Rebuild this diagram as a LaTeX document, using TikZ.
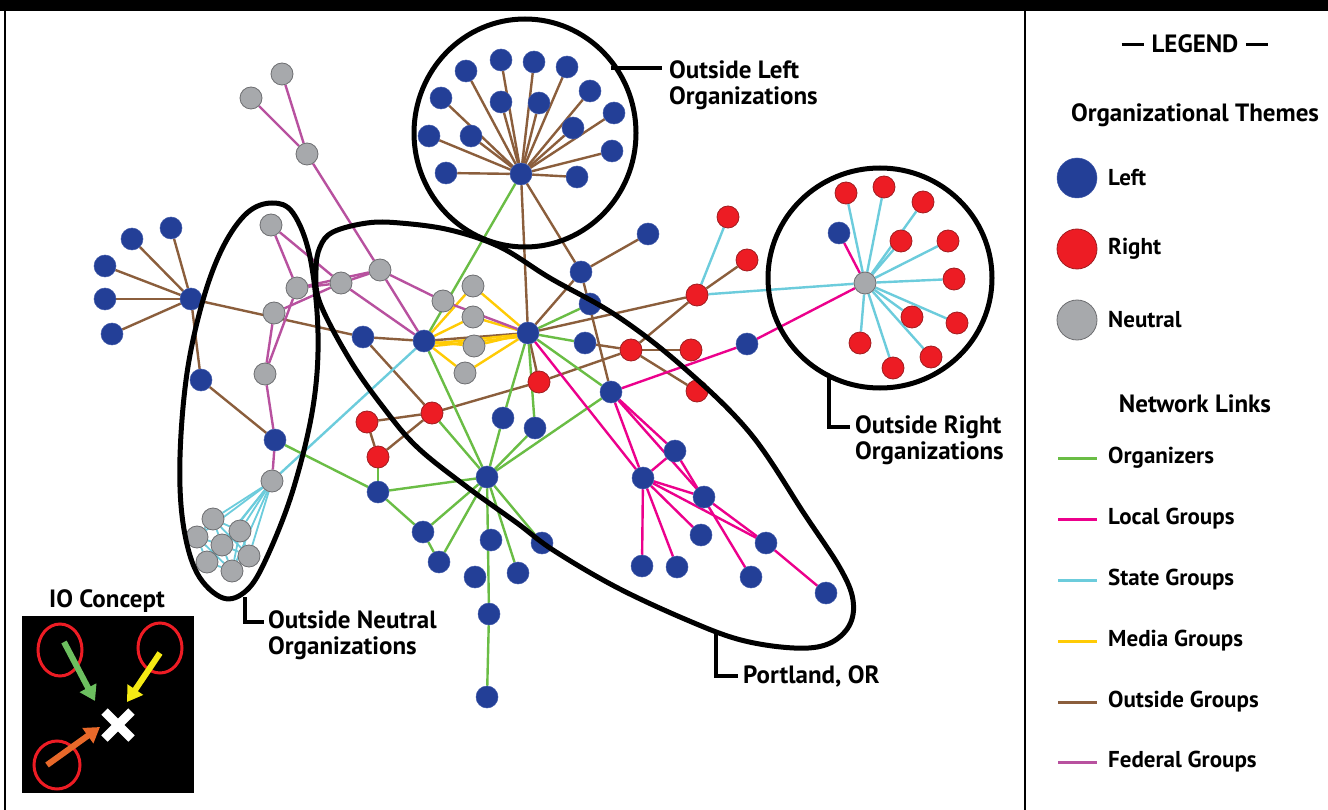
\documentclass[tikz,border=0pt]{standalone}
\usepackage{fontspec}
\setmainfont{PT Sans}
\usetikzlibrary{arrows.meta}
\definecolor{cblue}{HTML}{233F97}
\definecolor{cbluel}{HTML}{3F58A8}
\definecolor{cred}{HTML}{ED1C24}
\definecolor{credd}{HTML}{A01C20}
\definecolor{cgrey}{HTML}{A7A9AC}
\definecolor{cgreyd}{HTML}{6D6E71}
\definecolor{lorg}{HTML}{6ABD45}
\definecolor{lloc}{HTML}{EC008C}
\definecolor{lsta}{HTML}{6CCCDC}
\definecolor{lmed}{HTML}{FFCB05}
\definecolor{lout}{HTML}{8B5E3C}
\definecolor{lfed}{HTML}{B8519F}
\definecolor{agreen}{HTML}{6CBF5F}
\definecolor{ayellow}{HTML}{F5EA14}
\definecolor{aorange}{HTML}{E8692A}
\pgfdeclarelayer{back}
\pgfdeclarelayer{edges}
\pgfsetlayers{back,edges,main}
\newcommand\legdash{\rule[0.27em]{0.9em}{2.6pt}}
\begin{document}
\begin{tikzpicture}[x=1pt,y=-1pt,
  bn/.style={circle,fill=cblue,draw=cbluel,line width=0.5pt,minimum size=22pt,inner sep=0pt},
  rn/.style={circle,fill=cred,draw=credd,line width=0.8pt,minimum size=22pt,inner sep=0pt},
  gn/.style={circle,fill=cgrey,draw=cgreyd,line width=0.8pt,minimum size=22pt,inner sep=0pt},
  orgl/.style={draw=lorg,line width=2.4pt},
  locl/.style={draw=lloc,line width=2.4pt},
  stal/.style={draw=lsta,line width=2.4pt},
  medl/.style={draw=lmed,line width=2.4pt},
  outl/.style={draw=lout,line width=2.4pt},
  fedl/.style={draw=lfed,line width=2.4pt},
  hull/.style={draw=black,line width=5pt},
  callout/.style={draw=black,line width=4pt},
  lbl/.style={font=\bfseries\fontsize{25}{26}\selectfont,inner sep=0pt,align=left,anchor=west},
  leglbl/.style={lbl,font=\bfseries\fontsize{23}{26}\selectfont},
  legline/.style={line width=3pt}]
\useasboundingbox (0,0) rectangle (1328,810);
\begin{pgfonlayer}{back}
\fill[white] (0,0) rectangle (1328,810);
\end{pgfonlayer}
% frame
\fill[black] (0,0) rectangle (1328,11);
\draw[line width=2.5pt] (5,11) -- (5,810);
\draw[line width=2.5pt] (1025,11) -- (1025,810);

% ---------- nodes: blue ----------
\foreach \n/\x/\y in {olh/521/174, ol1/466/71, ol2/501/60, ol3/534/62, ol4/567/67, ol5/590/91, ol6/614/113, ol7/612/151, ol8/577/177, ol9/573/128, ol10/539/103, ol11/501/102, ol12/441/98, ol13/471/136, ol14/429/136, ol15/446/173,
  b191/191/299, b171/171/228, b132/132/239, b105a/105/266, b105b/105/299, b112/112/334, b201/201/380, b275/275/440,
  b363/363/337, b424/424/341, b528/528/333, b581/581/272, b590/590/304, b648/648/234, b585/585/343, b611/611/392, b747/747/344, b839/839/233,
  b503/503/418, b535/535/428, b487/487/477, b378/378/492, b423/423/532, b439/439/562, b491/491/540, b475/475/577, b518/518/573, b542/542/543, b489/489/614, b488/487/697,
  b643/643/478, b675/675/451, b705/704/497, b702/701/535, b765/766/543, b825/826/593, b642/642/566, b677/677/567, b750/751/577}
  \node[bn] (\n) at (\x,\y) {};
% red
\foreach \n/\x/\y in {r367/367/422, r378/378/457, r432/432/413, r539/539/382, r631/631/350, r691/691/350, r697/697/295, r697b/697/391, r728/728/217, r747/747/260,
  o1/846/193, o2/884/187, o3/923/202, o4/901/241, o5/948/241, o6/954/279, o7/912/317, o8/957/323, o9/860/343, o10/931/357, o11/893/368}
  \node[rn] (\n) at (\x,\y) {};
% grey
\foreach \n/\x/\y in {g282/282/74, g251/251/98, g307/307/154, g271/271/225, g297/297/288, g274/274/313, g265/265/374, g272/272/481, g341/341/283, g380/380/270, g443/443/301, g473a/473/286, g473b/473/317, g474c/474/346, g465/465/373, g865/865/283,
  c1/213/519, c2/197/537, c3/240/531, c4/222/545, c5/249/556, c6/207/562, c7/232/571}
  \node[gn] (\n) at (\x,\y) {};

% ---------- edges ----------
\begin{pgfonlayer}{edges}
\foreach \i in {1,...,15} \draw[outl] (olh) -- (ol\i);
\foreach \a/\b in {olh/b528, olh/b581, b581/b648, b581/b611, b528/b581, b528/r697, b528/r539, b424/b528, b363/b424, b191/b363, b191/b171, b191/b132, b191/b105a, b191/b105b, b191/b112, b191/b201, b201/b275, b363/r432, r367/r432, r367/r378, r378/r432, r432/r539, r539/r631, b585/r631, r631/r691, r631/r697, r631/r697b, r697/r747}
  \draw[outl] (\a) -- (\b);
\foreach \a/\b in {olh/b424, b424/b487, b528/b503, b503/b487, b528/b535, b528/b585, b528/b590, b528/b611, b487/b611, b535/b487, r432/b487, b378/b487, b275/b378, r378/b378, b378/b423, b423/b439, b487/b423, b487/b439, b487/b489, b489/b488, b487/b518, b487/b542}
  \draw[orgl] (\a) -- (\b);
\foreach \a/\b in {b528/b643, b611/b643, b611/b675, b611/b705, b643/b675, b643/b705, b643/b765, b643/b702, b643/b677, b643/b642, b675/b750, b705/b765, b765/b825, b611/b747, b747/g865, g865/b839}
  \draw[locl] (\a) -- (\b);
\foreach \i in {1,...,11} \draw[stal] (g865) -- (o\i);
\foreach \a/\b in {r697/g865, r697/r728, b424/g272}
  \draw[stal] (\a) -- (\b);
\foreach \a/\b in {g272/c1, g272/c2, g272/c3, g272/c4, g272/c5, g272/c6, g272/c7, c1/c3, c1/c4, c1/c2, c2/c4, c3/c4, c3/c5, c4/c5, c4/c6, c4/c7, c5/c7, c6/c7, c2/c6, c1/c5, c3/c7, c2/c7, c6/c3}
  \draw[stal,line width=1.8pt] (\a) -- (\b);
\foreach \a/\b in {b424/g473a, b424/g473b, b424/g474c, b424/g465, b528/g473a, b528/g473b, b528/g474c, b528/g465}
  \draw[medl] (\a) -- (\b);
\draw[medl] (b424.-12) -- (b528.-170);
\draw[medl] (b424.-26) -- (b528.-158);
\foreach \a/\b in {g282/g307, g251/g307, g307/g380, g271/g297, g271/g341, g297/g341, g297/g380, g341/g380, g274/g341, g297/g265, g274/g265, g341/b424, g380/b424, g380/g443, g443/b528, g265/b275, b275/g272}
  \draw[fedl] (\a) -- (\b);
\end{pgfonlayer}

% ---------- hulls ----------
\draw[hull] (525,133) ellipse [x radius=111, y radius=114];
\draw[hull] (880,278) ellipse [x radius=112, y radius=110];
\draw[hull] plot[smooth cycle, tension=0.6] coordinates {(316,270) (320,247) (333,232) (367,223) (400,223) (450,230) (500,247) (550,278) (617,316) (683,367) (750,433) (805,515) (840,568) (853,600) (849,626) (828,644) (794,648) (741,640) (687,620) (616,587) (553,550) (517,523) (467,487) (417,447) (383,407) (350,360) (320,303)};
\draw[hull] plot[smooth cycle, tension=0.6] coordinates {(272,203) (293,213) (310,257) (318,333) (313,407) (293,490) (267,557) (247,590) (223,598) (197,573) (183,523) (180,457) (187,373) (203,300) (223,247) (247,213)};

% ---------- callouts ----------
\coordinate (olc) at (611,68);
\node[lbl] (oltxt) at (669,85) {Outside Left\\Organizations};
\draw[callout] (olc) -- (662,68);
\coordinate (orc) at (829,378);
\node[lbl] (ortxt) at (855,440) {Outside Right\\Organizations};
\draw[callout] (orc) -- (829,427) -- (850,427);
\coordinate (onc) at (245,597);
\node[lbl] (ontxt) at (268,635) {Outside Neutral\\Organizations};
\draw[callout] (onc) -- (245,622) -- (264,622);
\coordinate (ptc) at (716,633);
\node[lbl] (pttxt) at (743,676) {Portland, OR};
\draw[callout] (ptc) -- (716,676) -- (738,676);

% ---------- IO concept ----------
\node[lbl,anchor=center] (iotitle) at (107,601) {IO Concept};
\fill[black] (22,616) rectangle (194,793);
\draw[cred,line width=3pt] (60,650) ellipse [x radius=22, y radius=26];
\draw[cred,line width=3pt] (160,648) ellipse [x radius=22, y radius=25];
\draw[cred,line width=3pt] (57,765) ellipse [x radius=23, y radius=24];
\draw[agreen,line width=6pt,-{Triangle[length=15pt,width=18pt]}] (64,642) -- (95,701);
\draw[ayellow,line width=6pt,-{Triangle[length=15pt,width=18pt]}] (160,653) -- (127,702);
\draw[aorange,line width=6pt,-{Triangle[length=15pt,width=18pt]}] (47,765) -- (100,727);
\draw[white,line width=9pt] (104.5,711.5) -- (131.5,738.5) (104.5,738.5) -- (131.5,711.5);

% ---------- legend ----------
\node[lbl,anchor=center] (legt) at (1195,44) {\legdash\hspace{0.3em}LEGEND\hspace{0.3em}\legdash};
\node[lbl,anchor=center] (themes) at (1195,115) {Organizational Themes};
\node[bn,minimum size=40pt] (lgb) at (1077,178) {};
\node[rn,minimum size=40pt] (lgr) at (1077,249) {};
\node[gn,minimum size=40pt] (lgg) at (1077,320) {};
\node[leglbl] (lgbt) at (1108,178) {Left};
\node[leglbl] (lgrt) at (1108,249) {Right};
\node[leglbl] (lggt) at (1108,320) {Neutral};
\node[lbl,anchor=center] (links) at (1195,404) {Network Links};
\foreach \s/\c/\y/\t in {o/lorg/458/Organizers, l/lloc/519/Local Groups, s/lsta/580/State Groups, m/lmed/641/Media Groups, u/lout/702/Outside Groups, f/lfed/762/Federal Groups}{
  \coordinate (ls\s) at (1058,\y);
  \node[leglbl] (lt\s) at (1108,\y) {\t};
  \draw[\c,legline] (ls\s) -- ++(39,0);
}
\end{tikzpicture}
\end{document}
